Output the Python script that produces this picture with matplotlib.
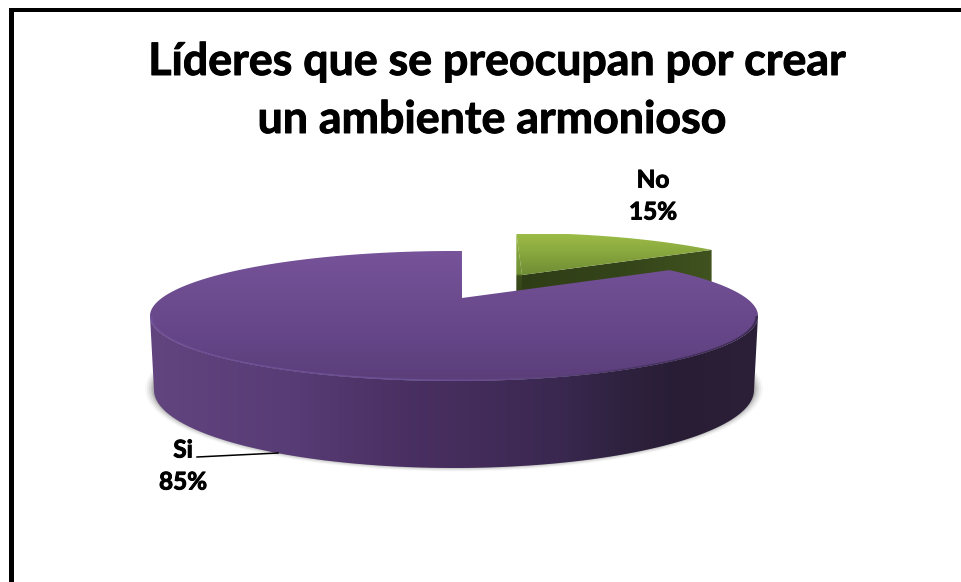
import numpy as np
import matplotlib
matplotlib.use("Agg")
import matplotlib.pyplot as plt
import matplotlib.patheffects as pe
from matplotlib.colors import LinearSegmentedColormap
from matplotlib.patches import Ellipse, Polygon

plt.rcParams['font.family'] = ['Lato', 'DejaVu Sans']

# Chart values
categories = ["No", "Si"]
values = [15, 85]
slice_labels = ["15%", "85%"]
title_lines = ["Líderes que se preocupan por crear", "un ambiente armonioso"]

# Disc geometry, in pixels
CX, CY, RX, RY = 454.0, 316.0, 304.0, 65.0
BOT_CX, BOT_CY, BOT_RX, BOT_RY = 454.0, 390.0, 300.0, 78.0
PIE_CENTRE = complex(8.0 / RX, 18.0 / RY)  # where the pie centre lands inside the top ellipse
SKEW = 0.055  # extra turn of the far right side of the disc


def tilt(p, c):
    """Perspective map of the unit disc onto itself that sends 0 to c."""
    c2 = abs(c) ** 2
    dot = (p * np.conj(c)).real
    par = dot / c2 * c
    perp = p - par
    return (par + c + np.sqrt(1 - c2) * perp) / (1 + dot)


# Turn the disc so that 12 o'clock sits straight above the pie centre
ROT = np.angle(tilt(np.exp(1j * np.radians(88.5)), -PIE_CENTRE)) - np.pi / 2


def project(theta):
    """Pie angle (radians, clockwise from 12 o'clock) to a point on the tilted top rim."""
    w = tilt(np.exp(1j * (np.pi / 2 - theta + ROT - SKEW * np.sin(theta))), PIE_CENTRE)
    return CX + RX * w.real, CY - RY * w.imag


def gradient_fill(ax, xs, ys, stops, horizontal=True, zorder=2):
    """Fill a polygon with a linear gradient. stops are (pixel position, colour)."""
    lo, hi = stops[0][0], stops[-1][0]
    cmap = LinearSegmentedColormap.from_list(
        "fill", [((p - lo) / (hi - lo), c) for p, c in stops])
    ramp = np.linspace(0, 1, 512)
    img = ramp[None, :] if horizontal else ramp[:, None]
    if horizontal:
        extent = (lo, hi, 582, 0)
    else:
        extent = (0, 962, hi, lo)
    im = ax.imshow(img, cmap=cmap, extent=extent, aspect="auto", zorder=zorder,
                   interpolation="bilinear", vmin=0, vmax=1)
    poly = Polygon(np.column_stack([xs, ys]), closed=True, transform=ax.transData)
    im.set_clip_path(poly)


fig = plt.figure(figsize=(9.62, 5.82), dpi=100)
ax = fig.add_axes([0, 0, 1, 1])
ax.set_axis_off()

# Outer frame
ax.fill([9, 14, 14, 9], [8, 8, 582, 582], color="black", zorder=6, lw=0)
ax.fill([9, 962, 962, 9], [8, 8, 11.5, 11.5], color="black", zorder=6, lw=0)

# Soft shadow under the disc
for grow, alpha in zip([9, 7, 5, 3, 1.5], [0.03, 0.05, 0.07, 0.09, 0.12]):
    ax.add_patch(Ellipse((BOT_CX, BOT_CY - 1), 2 * (BOT_RX + grow), 2 * (BOT_RY + grow * 0.5),
                         facecolor="black", alpha=alpha, lw=0, zorder=1))

# Slice angles come from the values, starting at 12 o'clock with "No"
sweep = np.cumsum([0] + values) / sum(values) * 2 * np.pi
no_start, no_end = sweep[0], sweep[1]
si_start, si_end = sweep[1], sweep[2]

tip_x, tip_y = CX + RX * PIE_CENTRE.real, CY - RY * PIE_CENTRE.imag

# Exploded "No" slice, pulled back and drawn a bit smaller
G_TIP = (522.0, 275.0)
th = np.linspace(no_start, no_end, 60)
rx, ry = project(th)
gx = G_TIP[0] + 0.93 * (rx - tip_x) + 0.12 * (ry - tip_y)
gy = G_TIP[1] + 0.90 * (ry - tip_y)

# cut faces of the green slice
gradient_fill(ax, [G_TIP[0], gx[-1], gx[-1], G_TIP[0]],
              [G_TIP[1], gy[-1], gy[-1] + 60, G_TIP[1] + 60],
              [(517, "#2f3d16"), (620, "#34441a"), (716, "#41531f")], zorder=2)
gradient_fill(ax, [gx[0], G_TIP[0], G_TIP[0], gx[0]],
              [gy[0], G_TIP[1], G_TIP[1] + 20, gy[0] + 60],
              [(234, "#93b443"), (274, "#6f8e33"), (276, "#3b4c1b"), (295, "#34441a")],
              horizontal=False, zorder=2)
# top of the green slice
gradient_fill(ax, np.r_[G_TIP[0], gx], np.r_[G_TIP[1], gy],
              [(234, "#9cbc47"), (255, "#86a53d"), (276, "#6d8b33")],
              horizontal=False, zorder=3)

# Front wall of the purple slice
phi = np.radians(np.linspace(180, 360, 200))
top_x = CX + RX * np.cos(phi)
top_y = CY - RY * np.sin(phi)
bot_x = BOT_CX + BOT_RX * np.cos(phi)
bot_y = BOT_CY - BOT_RY * np.sin(phi)
gradient_fill(ax, np.r_[top_x, bot_x[::-1]], np.r_[top_y, bot_y[::-1]],
              [(150, "#62447f"), (290, "#583c76"), (400, "#4a3063"), (480, "#432c5a"), (560, "#3a2850"),
               (620, "#2f2240"), (680, "#281d35"), (758, "#2c2039")],
              zorder=4)

# Top of the purple slice
th = np.linspace(si_start, si_end, 400)
rx, ry = project(th)
gradient_fill(ax, np.r_[tip_x, rx], np.r_[tip_y, ry],
              [(251, "#775399"), (300, "#6c4b8f"), (345, "#634485"), (382, "#5a3e79")],
              horizontal=False, zorder=5)

# Bevel along the front rim, bright on the left and soft dark on the right
inner_x = CX + (RX - 2.5) * np.cos(phi)
inner_y = CY - (RY - 1.5) * np.sin(phi)
gradient_fill(ax, np.r_[top_x, inner_x[::-1]], np.r_[top_y, inner_y[::-1]],
              [(150, "#6f4f96"), (450, "#6b4f94"), (560, "#5b4279"), (640, "#493463"), (758, "#3c2b52")],
              zorder=5)

ax.set_xlim(0, 962)
ax.set_ylim(582, 0)

# Title and labels, thickened a little with a stroke
heavy = [pe.withStroke(linewidth=0.7, foreground="black")]
for y, x, line in zip([62, 120], [497, 492], title_lines):
    ax.text(x, y, line, fontsize=32.2, fontweight="bold", ha="center", va="center",
            color="black", zorder=7, path_effects=heavy)

ax.text(653, 180, categories[0], fontsize=17.5, fontweight="bold", ha="center", va="center", zorder=7, path_effects=heavy)
ax.text(653, 212, slice_labels[0], fontsize=17.5, fontweight="bold", ha="center", va="center", zorder=7, path_effects=heavy)
ax.text(183, 450, categories[1], fontsize=17.5, fontweight="bold", ha="center", va="center", zorder=7, path_effects=heavy)
ax.text(183, 482, slice_labels[1], fontsize=17.5, fontweight="bold", ha="center", va="center", zorder=7, path_effects=heavy)

# Leader line for "Si"
ax.plot([197, 278], [457, 453], color="black", lw=1.1, zorder=7)

fig.savefig("out.png", dpi=100)
